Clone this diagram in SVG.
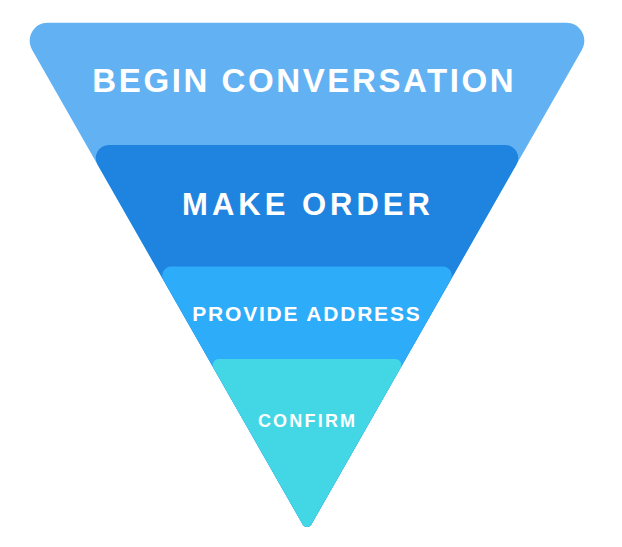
<svg xmlns="http://www.w3.org/2000/svg" width="622" height="547" viewBox="0 0 622 547">
<style>
  .lbl { font-family: "Liberation Sans", Arial, sans-serif; font-weight: bold; fill: #FFFFFF; text-anchor: middle; }
  .l1 { fill: #62B2F3; }
  .l2 { fill: #1F84E0; }
  .l3 { fill: #2DACF9; }
  .l4 { fill: #43D6E4; }
</style>
<rect width="622" height="547" fill="#FFFFFF"/>
<g id="layer-begin-conversation">
  <path class="l1" d="M47.7,22.7 L566.3,22.7 A18,18 0 0 1 581.95,49.63 L311.26,524.53 A5,5 0 0 1 302.74,524.53 L32.05,49.63 A18,18 0 0 1 47.7,22.7 Z"/>
  <text class="lbl" x="304.3" y="92" font-size="33" letter-spacing="2.6">BEGIN CONVERSATION</text>
</g>
<g id="layer-make-order">
  <path class="l2" d="M108.8,145 L505.2,145 A13,13 0 0 1 516.5,164.46 L311.26,524.53 A5,5 0 0 1 302.74,524.53 L97.5,164.46 A13,13 0 0 1 108.8,145 Z"/>
  <text class="lbl" x="308" y="215" font-size="31" letter-spacing="4">MAKE ORDER</text>
</g>
<g id="layer-provide-address">
  <path class="l3" d="M171.2,266.5 L442.8,266.5 A9,9 0 0 1 450.6,279.97 L311.26,524.53 A5,5 0 0 1 302.74,524.53 L163.4,279.97 A9,9 0 0 1 171.2,266.5 Z"/>
  <text class="lbl" x="306.9" y="321" font-size="21" letter-spacing="1.8">PROVIDE ADDRESS</text>
</g>
<g id="layer-confirm">
  <path class="l4" d="M218.7,359 L395.3,359 A6,6 0 0 1 400.5,367.95 L311.26,524.53 A5,5 0 0 1 302.74,524.53 L213.5,367.95 A6,6 0 0 1 218.7,359 Z"/>
  <text class="lbl" x="307.6" y="427" font-size="18" letter-spacing="2.2">CONFIRM</text>
</g>
</svg>
